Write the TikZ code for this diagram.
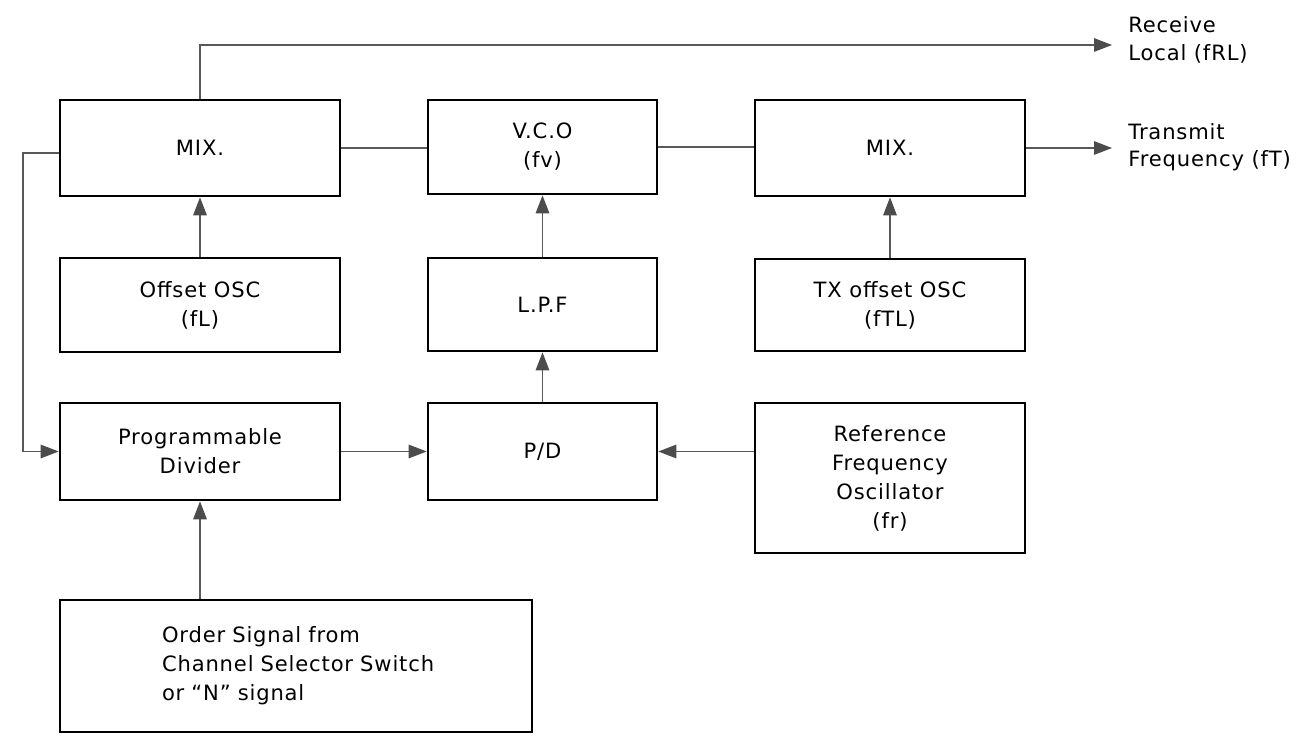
\documentclass[tikz,border=0pt]{standalone}
\usepackage{fontspec}
\setmainfont{DejaVu Sans}[LetterSpace=4]
\usetikzlibrary{arrows.meta}
\newdimen\pxu \pxu=0.02cm
\begin{document}
\begin{tikzpicture}[x=0.02cm, y=-0.02cm,
  blk/.style={draw=black, line width=1.5pt, align=center, inner sep=0pt,
    font=\fontsize{12}{16.5}\selectfont},
  lbl/.style={align=left, inner sep=0pt, font=\fontsize{12}{15.5}\selectfont},
  conn/.style={draw=black!65, line width=0.8pt},
  arr/.style={conn, -{Triangle[length=0.36cm,width=0.27cm,fill=black!70,color=black!70]}}]
\useasboundingbox (0,0) rectangle (1309,736);
% blocks
\node[blk, minimum width=280\pxu, minimum height=96\pxu] (mix1) at (200,148) {MIX.};
\node[blk, minimum width=229\pxu, minimum height=94\pxu] (vco) at (542.5,147) {V.C.O\\(fv)};
\node[blk, minimum width=270\pxu, minimum height=96\pxu] (mix2) at (890,148) {MIX.};
\node[blk, minimum width=280\pxu, minimum height=94\pxu] (osc) at (200,305) {Offset OSC\\(fL)};
\node[blk, minimum width=229\pxu, minimum height=93\pxu] (lpf) at (542.5,304.5) {L.P.F};
\node[blk, minimum width=270\pxu, minimum height=92\pxu] (txosc) at (890,305) {TX offset OSC\\(fTL)};
\node[blk, minimum width=280\pxu, minimum height=97\pxu] (prog) at (200,451.5) {Programmable\\Divider};
\node[blk, minimum width=229\pxu, minimum height=97\pxu] (pd) at (542.5,451.5) {P/D};
\node[blk, minimum width=270\pxu, minimum height=150\pxu] (ref) at (890,478) {Reference\\Frequency\\Oscillator\\(fr)};
\node[blk, align=left, minimum width=472\pxu, minimum height=132\pxu, text width=284\pxu] (order) at (296,666)
  {\hspace*{8\pxu}Order Signal from\\\hspace*{8\pxu}Channel Selector Switch\\\hspace*{8\pxu}or ``N'' signal};
% output labels
\node[lbl, anchor=west] (rxl) at (1128,40) {Receive\\Local (fRL)};
\node[lbl, anchor=west] (txl) at (1128,147) {Transmit\\Frequency (fT)};
\coordinate (rxend) at (1112,45);
\coordinate (txend) at (1112,148);
\coordinate (fb) at (23,153);
% connectors
\draw[arr] (mix1.north) |- (rxend);
\draw[conn] (mix1.east) -- (mix1.east -| vco.west);
\draw[conn] (vco.east) -- (vco.east -| mix2.west);
\draw[arr] (mix2.east) -- (txend);
\draw[arr] (osc.north) -- (mix1.south);
\draw[arr] (lpf.north) -- (vco.south);
\draw[arr] (txosc.north) -- (mix2.south);
\draw[arr] (pd.north) -- (lpf.south);
\draw[arr] (prog.east) -- (pd.west);
\draw[arr] (ref.west |- pd.east) -- (pd.east);
\draw[arr] (mix1.west |- fb) -- (fb) |- (prog.west);
\draw[arr] (prog.south |- order.north) -- (prog.south);
\end{tikzpicture}
\end{document}
